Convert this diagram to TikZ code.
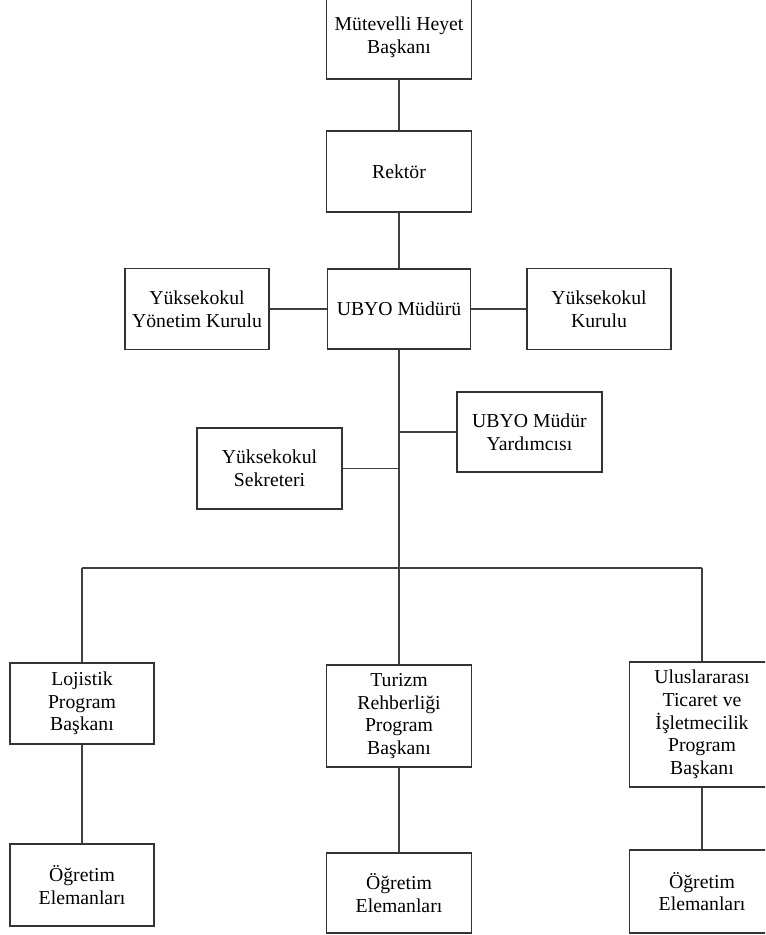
\documentclass[tikz,border=0pt]{standalone}
\usepackage{fontspec}
\setmainfont{Liberation Serif}
\begin{document}
\begin{tikzpicture}[x=0.75pt,y=-0.75pt,
  box/.style={draw=black!80, line width=1.1pt, fill=white, align=center, inner sep=0pt,
    font=\fontsize{14.8pt}{17pt}\selectfont, text=black},
  link/.style={draw=black!75, line width=1.1pt}]
\useasboundingbox (0,0) rectangle (765,935);
\clip (0,0) rectangle (765,935);
\fill[white] (0,0) rectangle (765,935);
% nodes
\node[box, minimum width=108.75pt, minimum height=62.25pt] (m) at (399,37.5) {Mütevelli Heyet\\Başkanı};
\node[box, minimum width=108.75pt, minimum height=60.75pt] (r) at (399,171.5) {Rektör};
\node[box, minimum width=107.25pt, minimum height=60pt] (u) at (399,309) {UBYO Müdürü};
\node[box, minimum width=108pt, minimum height=60.75pt] (yk) at (197,309) {Yüksekokul\\Yönetim Kurulu};
\node[box, minimum width=108pt, minimum height=60.75pt] (k) at (599,309) {Yüksekokul\\Kurulu};
\node[box, minimum width=108.75pt, minimum height=60pt] (yard) at (529.5,432) {UBYO Müdür\\Yardımcısı};
\node[box, minimum width=108.75pt, minimum height=60.75pt] (sek) at (269.5,468.5) {Yüksekokul\\Sekreteri};
\node[box, minimum width=108pt, minimum height=60.75pt] (loj) at (82,703.5) {Lojistik\\Program\\Başkanı};
\node[box, minimum width=108.75pt, minimum height=76.5pt] (tur) at (399,716) {Turizm\\Rehberliği\\Program\\Başkanı};
\node[box, minimum width=108.75pt, minimum height=93.75pt] (ulu) at (702,724.5) {Uluslararası\\Ticaret ve\\İşletmecilik\\Program\\Başkanı};
\node[box, minimum width=108pt, minimum height=61.5pt] (o1) at (82,885) {Öğretim\\Elemanları};
\node[box, minimum width=108.75pt, minimum height=60pt] (o2) at (399,893) {Öğretim\\Elemanları};
\node[box, minimum width=108.75pt, minimum height=62.25pt] (o3) at (702,891.5) {Öğretim\\Elemanları};
% coordinates
\coordinate (bc) at (399,568);
\coordinate (bl) at (82,568);
\coordinate (br) at (702,568);
\coordinate (jy) at (yard.west -| bc);
\coordinate (js) at (sek.east -| bc);
% connectors
\draw[link] (m.south) -- (r.north);
\draw[link] (r.south) -- (u.north);
\draw[link] (u.south) -- (bc);
\draw[link] (yk.east) -- (u.west);
\draw[link] (u.east) -- (k.west);
\draw[link] (jy) -- (yard.west);
\draw[link] (sek.east) -- (js);
\draw[link] (bl) -- (br);
\draw[link] (bl) -- (loj.north);
\draw[link] (bc) -- (tur.north);
\draw[link] (br) -- (ulu.north);
\draw[link] (loj.south) -- (o1.north);
\draw[link] (tur.south) -- (o2.north);
\draw[link] (ulu.south) -- (o3.north);
\end{tikzpicture}
\end{document}
